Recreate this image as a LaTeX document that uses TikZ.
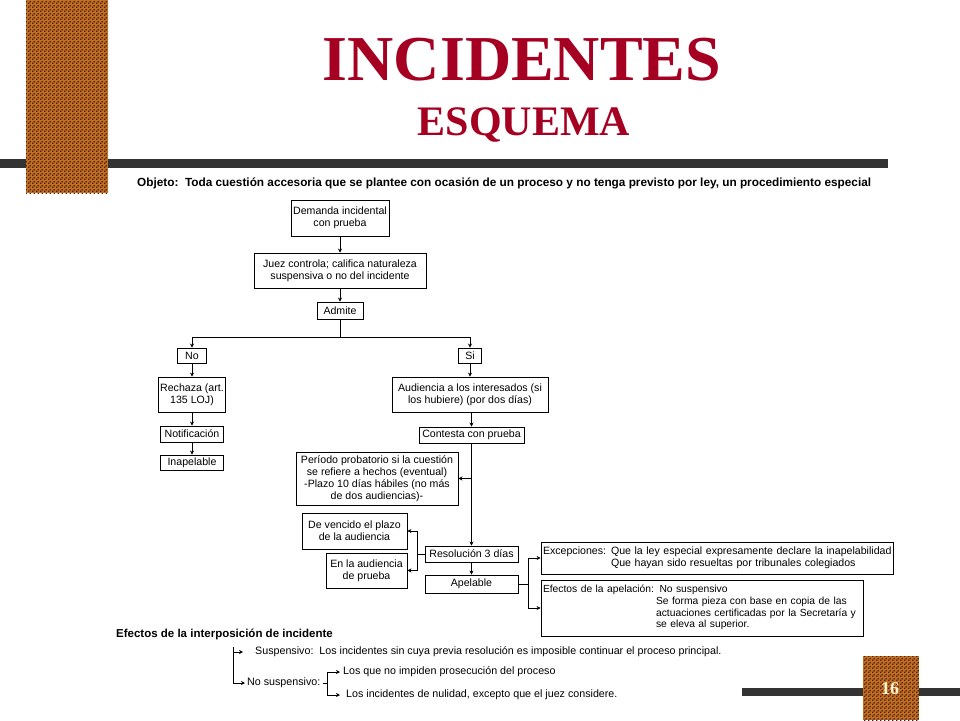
\documentclass[tikz,border=0pt]{standalone}
\usepackage{fontspec}
\setmainfont{Liberation Sans}
\newfontfamily\titlefont{Liberation Serif}
\usepackage{tikz}
\usetikzlibrary{patterns}
\usetikzlibrary{positioning, calc}
\usetikzlibrary{arrows.meta}
\definecolor{rojotitulo}{RGB}{165,0,33}
\definecolor{barra}{RGB}{51,51,51}
\definecolor{naranja}{RGB}{196,110,24}
\definecolor{puntos}{RGB}{60,28,40}
\definecolor{crema}{RGB}{255,243,210}
\newcommand{\letra}{\fontsize{10.6}{12}\selectfont}
\pgfdeclarepatternformonly{motivo}{\pgfpointorigin}{\pgfqpoint{4pt}{4pt}}{\pgfqpoint{4pt}{4pt}}{%
  \pgfpathrectangle{\pgfpointorigin}{\pgfqpoint{1.6pt}{1.6pt}}%
  \pgfpathrectangle{\pgfqpoint{2pt}{2pt}}{\pgfqpoint{1.6pt}{1.6pt}}%
  \pgfusepath{fill}}

\begin{document}
\begin{tikzpicture}[x=1pt, y=-1pt, >={Stealth[length=4pt,width=4pt]},
  caja/.style={draw, line width=0.9pt, align=center, inner sep=1pt, font=\letra},
  cajatexto/.style={draw, line width=0.9pt, align=left, inner sep=2pt, font=\letra},
  texto/.style={inner sep=0pt, font=\fontsize{10.7}{12}\selectfont},
  linea/.style={line width=0.9pt}]

  \useasboundingbox (0,0) rectangle (960,720);

  % Barras y bloques decorativos
  \fill[barra] (0,159) rectangle (888,168);
  \fill[naranja] (26,0) rectangle (108,193);
  \fill[pattern=motivo, pattern color=puntos] (26,0) rectangle (108,193);
  \fill[barra] (742,688) rectangle (960,696);
  \fill[naranja] (863,656) rectangle (919,720);
  \fill[pattern=motivo, pattern color=puntos] (863,656) rectangle (919,720);
  \node[text=crema, font=\titlefont\bfseries\fontsize{18}{18}\selectfont] (pagina) at (890,689) {16};

  % Titulo
  \node[anchor=base, text=rojotitulo, font=\titlefont\bfseries\fontsize{64}{64}\selectfont] (titulo) at (522,80) {INCIDENTES};
  \node[anchor=base, text=rojotitulo, font=\titlefont\bfseries\fontsize{42}{42}\selectfont] (subtitulo) at (524,135) {ESQUEMA};

  % Objeto
  \node[anchor=base west, inner sep=0pt, font=\bfseries\fontsize{11.8}{13}\selectfont] (objeto) at (137,186)
    {Objeto:\ \ Toda cuestión accesoria que se plantee con ocasión de un proceso y no tenga previsto por ley, un procedimiento especial};

  % Tronco
  \node[caja, minimum width=98pt, minimum height=36pt] (demanda) at (340,218) {Demanda incidental\\con prueba};
  \node[caja, minimum width=172pt, minimum height=35pt] (juez) at (340,270.5) {Juez controla; califica naturaleza\\suspensiva o no del incidente};
  \node[caja, minimum width=46pt, minimum height=17pt] (admite) at (340,310.5) {Admite};
  \coordinate (rama) at (340,337);

  % Rama No
  \node[caja, minimum width=29pt, minimum height=15pt] (no) at (192,355.5) {No};
  \node[caja, minimum width=66pt, minimum height=35pt, inner xsep=2pt] (rechaza) at (192,394.5) {Rechaza (art.\\135 LOJ)};
  \node[caja, minimum width=63pt, minimum height=16pt] (notificacion) at (192,434) {Notificación};
  \node[caja, minimum width=63pt, minimum height=15pt] (inapelable) at (192,462.5) {Inapelable};

  % Rama Si
  \node[caja, minimum width=23pt, minimum height=15pt] (si) at (470,355.5) {Si};
  \node[caja, minimum width=156pt, minimum height=35pt] (audiencia) at (470,394.5) {Audiencia a los interesados (si\\los hubiere) (por dos días)};
  \node[caja, minimum width=105pt, minimum height=16pt, inner xsep=2pt] (contesta) at (471.5,435) {Contesta con prueba};
  \node[caja, minimum width=162pt, minimum height=53pt] (periodo) at (377,478.5)
    {Período probatorio si la cuestión\\se refiere a hechos (eventual)\\-Plazo 10 días hábiles (no más\\de dos audiencias)-};
  \node[caja, minimum width=93pt, minimum height=16pt] (resolucion) at (471.5,554) {Resolución 3 días};
  \node[caja, minimum width=93pt, minimum height=18pt] (apelable) at (471.5,584) {Apelable};
  \node[caja, minimum width=105pt, minimum height=36pt] (vencido) at (354.5,531) {De vencido el plazo\\de la audiencia};
  \node[caja, minimum width=81pt, minimum height=35pt] (enaudiencia) at (366.5,570.5) {En la audiencia\\de prueba};
  \coordinate (izq) at (417,554);
  \coordinate (der) at (528,584);

  \node[cajatexto, text width=348pt, minimum height=32pt] (excepciones) at (717,558)
    {\begin{tabular}{@{}l@{\hspace{5pt}}l@{}}Excepciones: & Que la ley especial expresamente declare la inapelabilidad\\
      & Que hayan sido resueltas por tribunales colegiados\end{tabular}};
  \node[cajatexto, text width=318pt, minimum height=56pt, font=\fontsize{10.3}{11.6}\selectfont] (efectos) at (702,608)
    {\begin{tabular}{@{}l@{\hspace{2pt}}l@{}}Efectos de la apelación: & \ No suspensivo\\
      & Se forma pieza con base en copia de las\\
      & actuaciones certificadas por la Secretaría y\\
      & se eleva al superior.\end{tabular}};

  % Conectores
  \draw[linea, ->] (demanda.south) -- (demanda.south |- juez.north);
  \draw[linea, ->] (juez.south) -- (juez.south |- admite.north);
  \draw[linea] (admite.south) -- (rama);
  \draw[linea] (no.north |- rama) -- (si.north |- rama);
  \draw[linea, ->] (no.north |- rama) -- (no.north);
  \draw[linea, ->] (si.north |- rama) -- (si.north);
  \draw[linea, ->] (no) -- (rechaza);
  \draw[linea, ->] (rechaza) -- (notificacion);
  \draw[linea, ->] (notificacion) -- (inapelable);
  \draw[linea, ->] (si) -- (audiencia);
  \draw[linea, ->] (audiencia.south -| contesta.north) -- (contesta.north);
  \draw[linea, ->] (contesta.south) -- (resolucion.north);
  \draw[linea, ->] (contesta.south |- periodo.east) -- (periodo.east);
  \draw[linea, ->] (resolucion) -- (apelable);
  \draw[linea] (resolucion.west) -- (izq);
  \draw[linea] (izq |- vencido.east) -- (izq |- enaudiencia.east);
  \draw[linea, ->] (izq |- vencido.east) -- (vencido.east);
  \draw[linea, ->] (izq |- enaudiencia.east) -- (enaudiencia.east);
  \draw[linea] (apelable.east) -- (der);
  \draw[linea] (der |- excepciones.west) -- (der |- efectos.west);
  \draw[linea, ->] (der |- excepciones.west) -- (excepciones.west);
  \draw[linea, ->] (der |- efectos.west) -- (efectos.west);

  % Efectos de la interposicion
  \node[anchor=base west, inner sep=0pt, font=\bfseries\fontsize{11.5}{13}\selectfont] (interposicion) at (116,637)
    {Efectos de la interposición de incidente};
  \coordinate (llave) at (233,647);
  \node[texto, anchor=west, inner xsep=12pt] (suspensivo) at (243,652)
    {Suspensivo:\ \ Los incidentes sin cuya previa resolución es imposible continuar el proceso principal.};
  \node[texto, anchor=west, inner xsep=2pt] (nosusp) at (245,683) {No suspensivo:};
  \coordinate (llave2) at (327,672);
  \node[texto, anchor=west, inner xsep=3pt] (impiden) at (340,672) {Los que no impiden prosecución del proceso};
  \node[texto, anchor=west, inner xsep=6pt] (nulidad) at (340,695) {Los incidentes de nulidad, excepto que el juez considere.};

  \draw[line width=0.7pt] (llave) -- (llave |- nosusp.west);
  \draw[line width=0.7pt, ->] (llave |- suspensivo.west) -- (suspensivo.west);
  \draw[line width=0.7pt, ->] (llave |- nosusp.west) -- (nosusp.west);
  \draw[line width=0.7pt] (nosusp.east) -- (llave2 |- nosusp.east);
  \draw[line width=0.7pt] (llave2) -- (llave2 |- nulidad.west);
  \draw[line width=0.7pt, ->] (llave2) -- (impiden.west);
  \draw[line width=0.7pt, ->] (llave2 |- nulidad.west) -- (nulidad.west);
\end{tikzpicture}
\end{document}
